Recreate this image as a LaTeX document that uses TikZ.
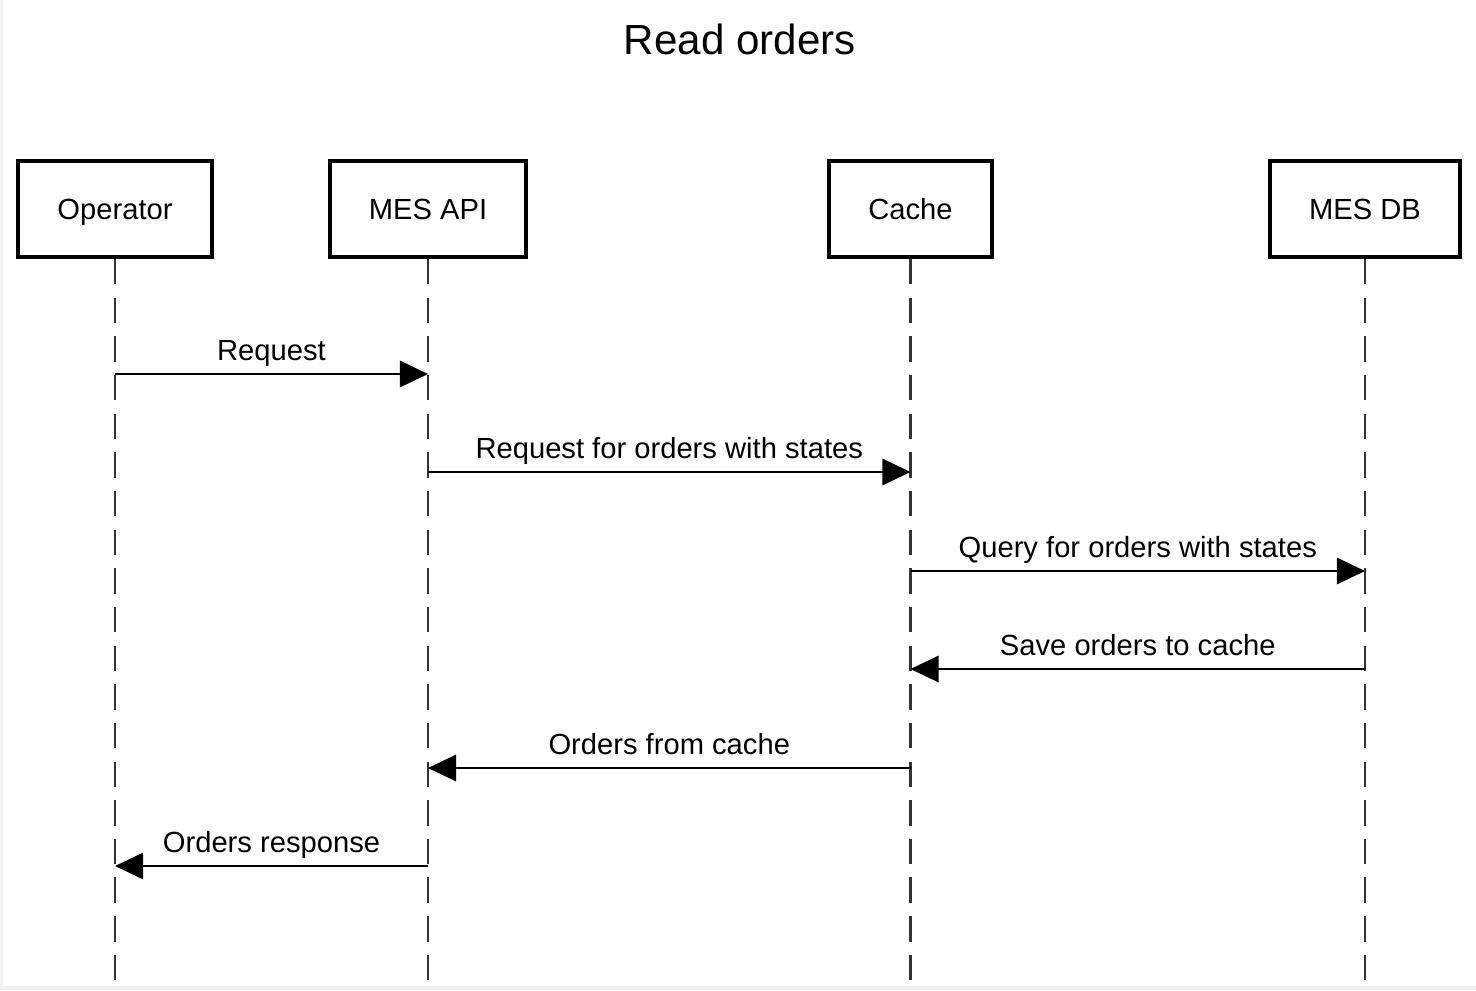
\documentclass[tikz,border=0pt]{standalone}
\usepackage{fontspec}
\setmainfont{Liberation Sans}
\usetikzlibrary{arrows.meta}
\tikzset{
  pbox/.style = {draw=black, line width=2.3pt, minimum height=96*0.02cm, inner sep=0pt, text height=12pt, text depth=0pt, font=\fontsize{16.6}{20}\selectfont},
  lifeline/.style = {line width=1.5pt, black!80, dash pattern=on 14.5pt off 7.5pt},
  msg/.style = {line width=1.2pt, -{Triangle[length=16pt,width=15pt]}},
  msglabel/.style = {anchor=base, yshift=0.28cm, inner sep=0pt, font=\fontsize{16.6}{20}\selectfont},
}

\begin{document}
\begin{tikzpicture}[x=0.02cm,y=-0.02cm]
\useasboundingbox (0,0) rectangle (1476,990);
\fill[black!5] (0,0) rectangle (3,990);
\fill[black!5] (0,986) rectangle (1476,990);
\node [anchor=base, font=\fontsize{24}{28}\selectfont] (title) at (740,55) {Read orders};
% participants
\node [pbox, minimum width=194*0.02cm] (op) at (115,209) {Operator};
\node [pbox, minimum width=196*0.02cm] (api) at (428,209) {MES API};
\node [pbox, minimum width=163*0.02cm] (cache) at (910.5,209) {Cache};
\node [pbox, minimum width=190*0.02cm] (db) at (1365,209) {MES DB};
\coordinate (opE) at (op |- 0,985);
\coordinate (apiE) at (api |- 0,985);
\coordinate (cacheE) at (cache |- 0,985);
\coordinate (dbE) at (db |- 0,985);
\foreach \p in {op,api,cache,db}
  \draw [lifeline] (\p.south) -- (\p E);
% messages
\draw [msg] (op |- 0,374) -- (api |- 0,374) node [msglabel, midway] {Request};
\draw [msg] (api |- 0,472) -- (cache |- 0,472) node [msglabel, midway] {Request for orders with states};
\draw [msg] (cache |- 0,571) -- (db |- 0,571) node [msglabel, midway] {Query for orders with states};
\draw [msg] (db |- 0,669) -- (cache |- 0,669) node [msglabel, midway] {Save orders to cache};
\draw [msg] (cache |- 0,768) -- (api |- 0,768) node [msglabel, midway] {Orders from cache};
\draw [msg] (api |- 0,866) -- (op |- 0,866) node [msglabel, midway] {Orders response};
\end{tikzpicture}
\end{document}
